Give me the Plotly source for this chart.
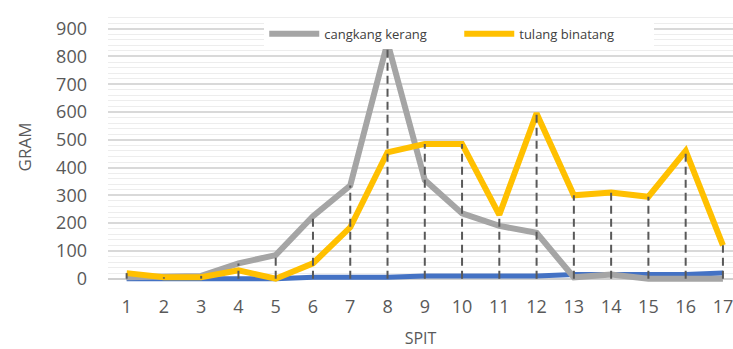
import plotly.graph_objects as go

spit = list(range(1, 18))
spit_labels = [str(s) for s in spit]
cangkang_kerang = [5, 5, 10, 55, 85, 225, 335, 850, 355, 235, 190, 165, 5, 15, 0, 0, 0]
tulang_binatang = [20, 5, 5, 30, 0, 55, 185, 455, 485, 485, 230, 595, 300, 310, 295, 460, 120]
lainnya = [0, 0, 0, 0, 0, 5, 5, 5, 10, 10, 10, 10, 15, 15, 15, 15, 20]

# drop lines from the highest point of each category down to the axis
drop_x, drop_y = [], []
for i, s in enumerate(spit):
    top = max(cangkang_kerang[i], tulang_binatang[i], lainnya[i])
    drop_x += [s, s, None]
    drop_y += [0, top, None]

fig = go.Figure()
fig.add_trace(go.Scatter(x=spit, y=lainnya, mode="lines", name="lainnya",
                         line=dict(color="#4472C4", width=5), showlegend=False))
fig.add_trace(go.Scatter(x=spit, y=cangkang_kerang, mode="lines", name="cangkang kerang",
                         line=dict(color="#A5A5A5", width=6)))
fig.add_trace(go.Scatter(x=spit, y=tulang_binatang, mode="lines", name="tulang binatang",
                         line=dict(color="#FFC000", width=6)))
fig.add_trace(go.Scatter(x=drop_x, y=drop_y, mode="lines", showlegend=False,
                         line=dict(color="#595959", width=2, dash="8px,5px"),
                         hoverinfo="skip"))

fig.update_layout(
    width=733, height=349,
    margin=dict(l=108, r=0, t=12, b=67, autoexpand=False),
    paper_bgcolor="white", plot_bgcolor="white",
    font=dict(family="Open Sans", color="#595959"),
    legend=dict(orientation="h", x=0.25, y=0.975, xanchor="left", yanchor="top",
                bgcolor="white", font=dict(size=13, color="#404040"),
                itemwidth=50, entrywidth=130, entrywidthmode="pixels",
                traceorder="normal"),
    xaxis=dict(range=[0.5, 17.27], tickmode="array", tickvals=spit, ticktext=spit_labels,
               showgrid=False, zeroline=False, showline=False, automargin=False,
               tickfont=dict(size=18, color="#595959"), ticks="",
               ticklabelstandoff=12, ticklabeloverflow="allow",
               title=dict(text="SPIT", font=dict(size=16, color="#595959"), standoff=17)),
    yaxis=dict(range=[-12, 960], tickmode="array", tickvals=list(range(0, 901, 100)),
               showgrid=True, gridcolor="#D9D9D9", gridwidth=1.5,
               minor=dict(dtick=20, tick0=0, showgrid=True, gridcolor="#EDEDED", gridwidth=1),
               zeroline=True, zerolinecolor="#D0D0D0", zerolinewidth=1.5,
               showline=False, ticks="", automargin=False,
               tickfont=dict(size=18, color="#595959"),
               ticklabelstandoff=20,
               title=dict(text="GRAM", font=dict(size=17, color="#595959"), standoff=20)),
)

fig.write_html(
    "out.html",
    config={"displayModeBar": False},
    post_script="document.body.style.margin='0';document.body.style.overflow='hidden';",
)
